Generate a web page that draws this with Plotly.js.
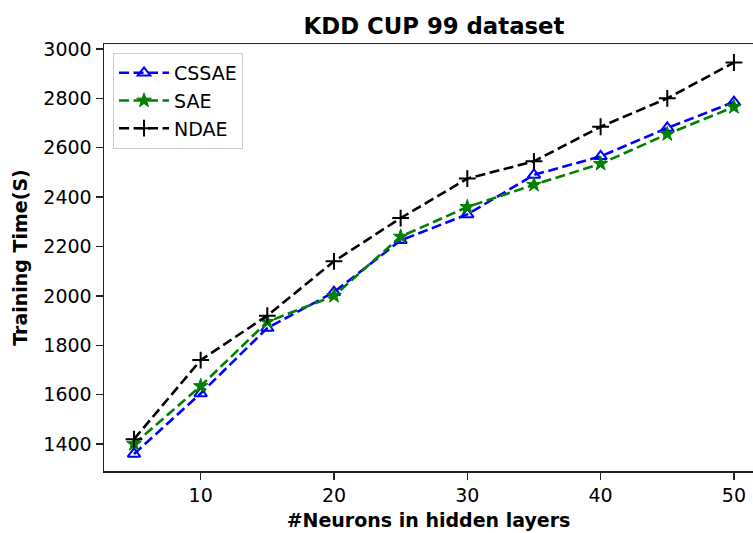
<!DOCTYPE html>
<html>
<head>
<meta charset="utf-8">
<script src="https://cdn.plot.ly/plotly-3.0.1.min.js"></script>
<style>html,body{margin:0;padding:0;background:#fff;}#chart{width:753px;height:533px;}</style>
</head>
<body>
<div id="chart"></div>
<script>
const neurons = [5, 10, 15, 20, 25, 30, 35, 40, 45, 50];
const cssae = [1360, 1605, 1870, 2015, 2225, 2330, 2490, 2565, 2680, 2785];
const sae   = [1400, 1635, 1895, 2000, 2240, 2360, 2450, 2535, 2655, 2765];
const ndae  = [1420, 1740, 1920, 2140, 2315, 2475, 2545, 2685, 2800, 2945];
const xTicks = [10, 20, 30, 40, 50];
const yTicks = [1400, 1600, 1800, 2000, 2200, 2400, 2600, 2800, 3000];
const seriesNames = ['CSSAE', 'SAE', 'NDAE'];

const font = 'DejaVu Sans, sans-serif';
const dash = '10px,4.5px';

const traces = [
  {x: neurons, y: cssae, name: seriesNames[0], legendgroup: 'a', mode: 'lines+markers',
   line: {color: '#0000ff', width: 2.6, dash: dash},
   marker: {symbol: 'triangle-up-open', size: 11, color: '#0000ff', line: {color: '#0000ff', width: 2}}},
  {x: neurons, y: sae, name: seriesNames[1], legendgroup: 'b', mode: 'lines+markers',
   line: {color: '#008000', width: 2.6, dash: dash},
   marker: {symbol: 'star', size: 11, color: '#008000', line: {color: '#008000', width: 1}}},
  {x: neurons, y: ndae, name: seriesNames[2], legendgroup: 'c', mode: 'lines+markers',
   line: {color: '#000000', width: 2.6, dash: dash},
   marker: {symbol: 'cross-thin-open', size: 12, color: '#000000', line: {color: '#000000', width: 2}}}
];

const layout = {
  width: 753, height: 533,
  margin: {l: 104, r: 0, t: 44, b: 62, pad: 0},
  paper_bgcolor: '#fff', plot_bgcolor: '#fff',
  font: {family: font, size: 19, color: '#000'},
  title: {text: '<b>KDD CUP 99 dataset</b>', font: {family: font, size: 22.8, color: '#000'},
          xref: 'paper', x: 0.5085, xanchor: 'center', yref: 'container', y: 0.951, yanchor: 'middle'},
  xaxis: {range: [2.75, 51.43], tickvals: xTicks, ticktext: xTicks.map(String),
          showgrid: false, zeroline: false, showline: true, linecolor: '#222', linewidth: 1.5,
          mirror: true, ticks: 'outside', ticklen: 7, tickwidth: 1.5, tickcolor: '#222',
          tickfont: {family: font, size: 19, color: '#000'},
          title: {text: '<b>#Neurons in hidden layers</b>', font: {family: font, size: 19, color: '#000'}, standoff: 8}},
  yaxis: {range: [1291, 3020], tickvals: yTicks, ticktext: yTicks.map(String),
          showgrid: false, zeroline: false, showline: true, linecolor: '#222', linewidth: 1.5,
          mirror: false, ticks: 'outside', ticklen: 7, tickwidth: 1.5, tickcolor: '#222',
          tickfont: {family: font, size: 19, color: '#000'},
          title: {text: '<b>Training Time(S)</b>', font: {family: font, size: 19, color: '#000'}, standoff: 10}},
  showlegend: true,
  legend: {x: 0.0139, y: 0.979, xanchor: 'left', yanchor: 'top', itemwidth: 50,
           bgcolor: 'rgba(255,255,255,0.8)', bordercolor: '#cccccc', borderwidth: 1,
           font: {family: font, size: 19, color: '#000'}, tracegroupgap: 0, traceorder: 'grouped'}
};

Plotly.newPlot('chart', traces, layout, {displayModeBar: false, staticPlot: true});
</script>
</body>
</html>
